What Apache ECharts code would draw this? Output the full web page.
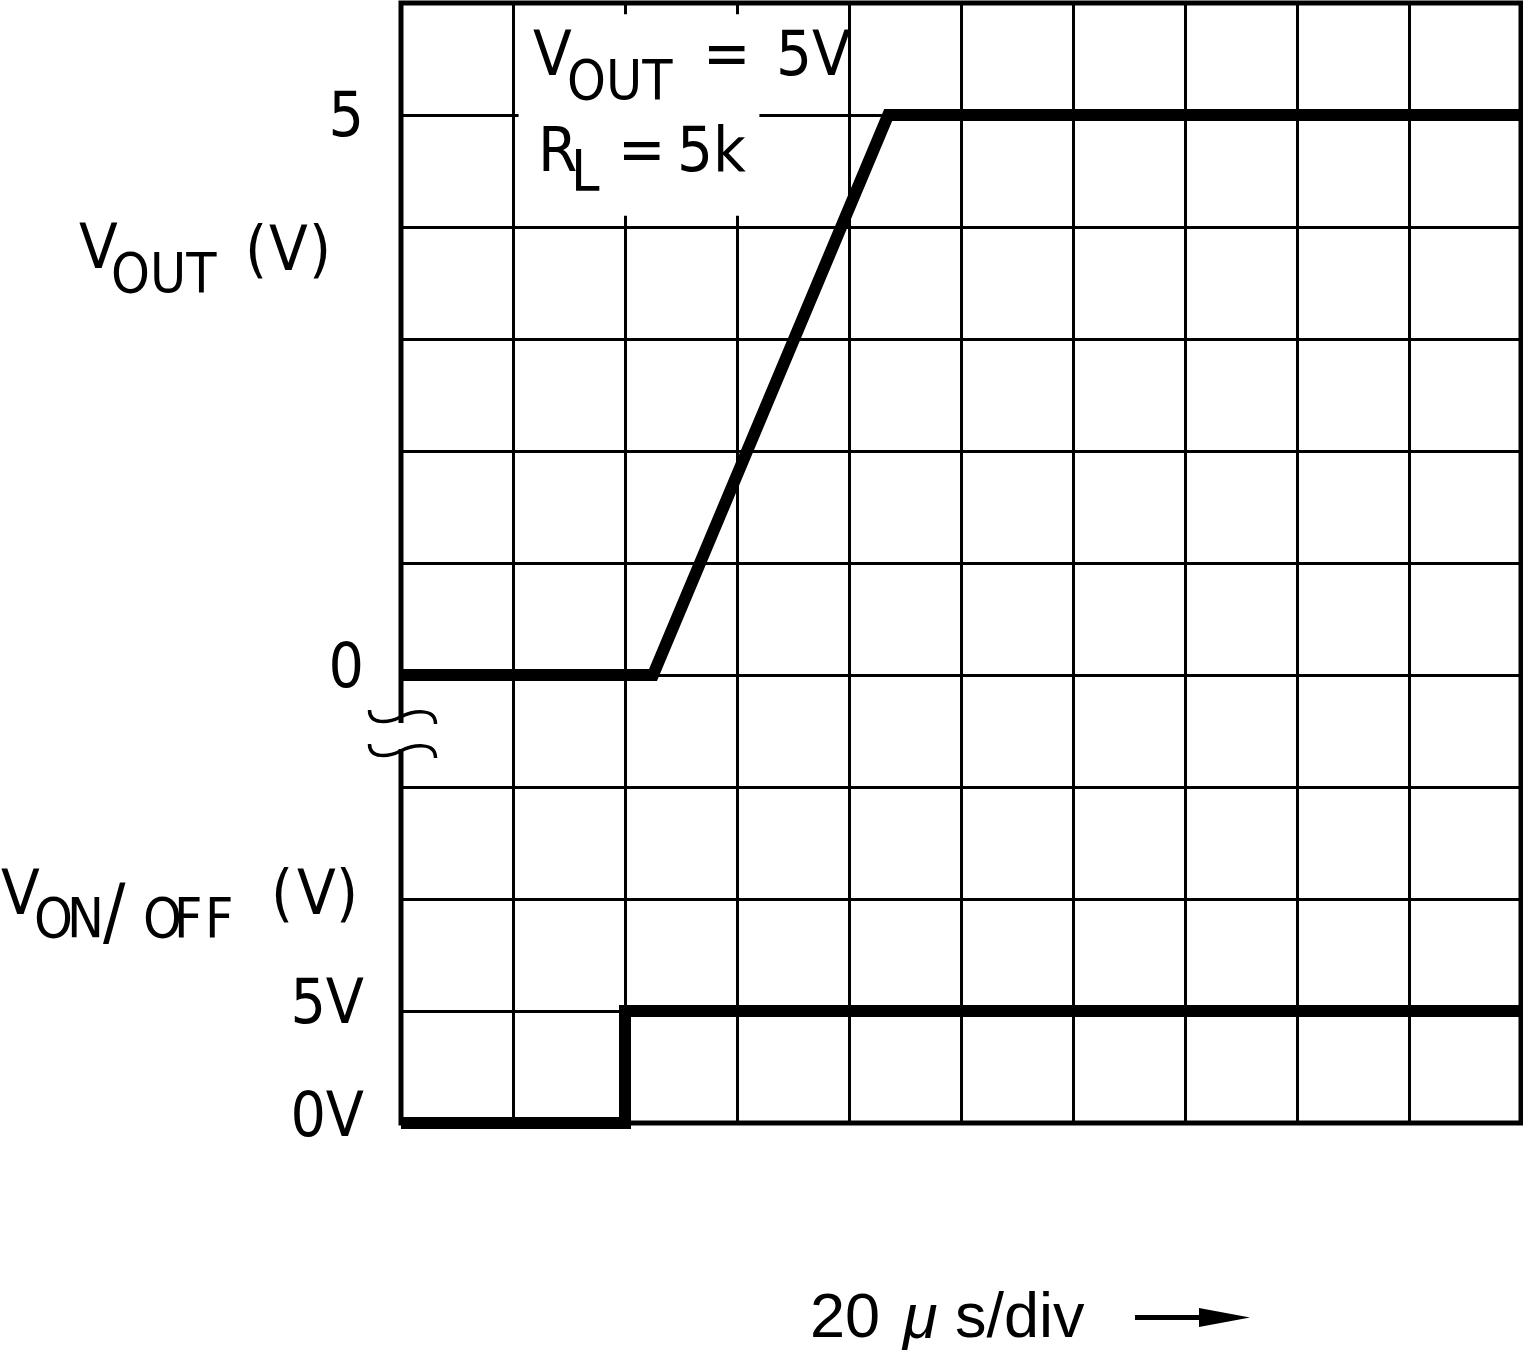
<!DOCTYPE html>
<html>
<head>
<meta charset="utf-8">
<script src="https://cdn.jsdelivr.net/npm/echarts@6/dist/echarts.min.js"></script>
<style>html,body{margin:0;padding:0;background:#fff}#c{width:1523px;height:1356px}</style>
</head>
<body>
<div id="c"></div>
<script>
// ---- data (time in divisions of 20 us, voltages in volts) ----
const voutTime   = [0, 2.25, 4.35, 10];
const voutVolts  = [0, 0, 5, 5];
const onoffTime  = [0, 2.0, 2.0, 10];
const onoffVolts = [0, 0, 5, 5];
// screen mapping of each trace onto the 10-division graticule
const voutOffsetDiv = 4,  voutDivPerVolt = 1;
const onoffOffsetDiv = 0, onoffDivPerVolt = 0.2;
// y tick labels (graticule division -> text)
const yTickValues = [0, 1, 4, 9];
const yTickLabels = ['0V', '5V', '0', '5'];
// annotation box in graticule units
const noteBox = { x0: 1.05, x1: 3.2, y0: 8.1, y1: 9.9 };

const NARROW = "'Liberation Sans Narrow', 'DejaVu Sans Condensed', sans-serif";
const REG = "'Liberation Sans', Arial, sans-serif";

const voutData = voutTime.map((t, i) => [t, voutOffsetDiv + voutVolts[i] * voutDivPerVolt]);
const onoffData = onoffTime.map((t, i) => [t, onoffOffsetDiv + onoffVolts[i] * onoffDivPerVolt]);

const labelShift = { 9: 5, 4: -4.5, 1: -4, 0: -3 };
const rich = {};
yTickValues.forEach(v => {
  const s = labelShift[v];
  rich['t' + v] = {
    fontSize: 62, fontFamily: NARROW, color: '#000',
    padding: s >= 0 ? [2 * s, 0, 0, 0] : [0, 0, -2 * s, 0]
  };
});

function txt(text, x, y, size, family, extra) {
  return {
    type: 'text', z: 60,
    style: Object.assign({
      text: text, x: x, y: y, fill: '#000',
      fontSize: size, fontFamily: family || NARROW,
      align: 'left', verticalAlign: 'middle',
      textAlign: 'left', textVerticalAlign: 'middle'
    }, extra || {})
  };
}

function wave(cx, cy) {
  const ls = { stroke: '#000', lineWidth: 3.5, fill: null };
  return {
    type: 'group', x: cx, y: cy, z: 51,
    children: [
      { type: 'bezierCurve', z: 51, shape: { x1: -31, y1: -7, cpx1: -31, cpy1: 8, cpx2: -12, cpy2: 6, x2: 0, y2: 0 }, style: ls },
      { type: 'bezierCurve', z: 51, shape: { x1: 0, y1: 0, cpx1: 12, cpy1: -6, cpx2: 35, cpy2: -10, x2: 35, y2: 7 }, style: ls }
    ]
  };
}

const chart = echarts.init(document.getElementById('c'), null, { renderer: 'canvas' });

const splitStyle = { show: true, lineStyle: { color: '#000', width: 3, type: 'solid' } };

const option = {
  animation: false,
  backgroundColor: '#fff',
  grid: {
    left: 401, right: 2, top: 3, bottom: 233,
    show: true, borderColor: '#000', borderWidth: 5, backgroundColor: 'transparent',
    containLabel: false, outerBoundsMode: 'none'
  },
  xAxis: {
    type: 'value', min: 0, max: 10, interval: 1,
    axisLine: { show: false }, axisTick: { show: false }, axisLabel: { show: false },
    splitLine: splitStyle
  },
  yAxis: {
    type: 'value', min: 0, max: 10, interval: 1,
    axisLine: { show: false }, axisTick: { show: false },
    splitLine: splitStyle,
    axisLabel: {
      show: true, margin: 37, color: '#000',
      formatter: function (v) {
        const i = yTickValues.indexOf(v);
        return i < 0 ? '' : '{t' + v + '|' + yTickLabels[i] + '}';
      },
      rich: rich
    }
  },
  series: [
    {
      name: 'VOUT', type: 'line', data: voutData, symbol: 'none', clip: false, z: 5,
      lineStyle: { color: '#000', width: 12, join: 'miter', cap: 'butt' },
      markArea: {
        silent: true,
        itemStyle: { color: '#fff', opacity: 1 },
        data: [[{ coord: [noteBox.x0, noteBox.y1] }, { coord: [noteBox.x1, noteBox.y0] }]]
      }
    },
    {
      name: 'VON/OFF', type: 'line', data: onoffData, symbol: 'none', clip: false, z: 5,
      lineStyle: { color: '#000', width: 12, join: 'miter', cap: 'butt' }
    }
  ],
  graphic: {
    elements: [
      // axis break gap and break marks
      { type: 'rect', z: 50, shape: { x: 395, y: 723, width: 13, height: 26 }, style: { fill: '#fff' } },
      wave(400.5, 717),
      wave(400.5, 751),
      // annotation text
      txt('V', 533, 58.5, 63),
      txt('OUT', 567, 85, 55),
      txt('=', 703, 58.5, 63),
      txt('5V', 776, 58.5, 63),
      txt('R', 538, 154.5, 63),
      txt('L', 571, 176.5, 57),
      txt('=', 618, 155, 63),
      txt('5k', 677, 154.5, 63),
      // VOUT (V) axis title
      txt('V', 79, 251.5, 63),
      txt('OUT', 111, 278, 55),
      txt('(', 245, 254, 63),
      txt('V', 269, 254, 63),
      txt(')', 309, 254, 63),
      // VON/OFF (V) axis title
      txt('V', 1, 897.5, 63),
      txt('O', 34, 923, 55), txt('N', 67, 923, 55), txt('/', 103, 918, 74),
      txt('O', 143, 923, 55), txt('F', 174, 923, 55), txt('F', 205, 923, 55),
      txt('(', 271, 897.5, 63),
      txt('V', 297, 897.5, 63),
      txt(')', 336, 897.5, 63),
      // time base
      txt('20', 810, 1320, 63, REG),
      txt('\u03bc', 903, 1320, 63, REG, { fontStyle: 'italic' }),
      txt('s/div', 955, 1320, 63, REG),
      { type: 'line', z: 60, shape: { x1: 1135, y1: 1317.5, x2: 1210, y2: 1317.5 }, style: { stroke: '#000', lineWidth: 5 } },
      { type: 'polygon', z: 60, shape: { points: [[1199, 1308], [1250, 1317.5], [1199, 1327]] }, style: { fill: '#000' } }
    ]
  }
};

chart.setOption(option);
</script>
</body>
</html>
